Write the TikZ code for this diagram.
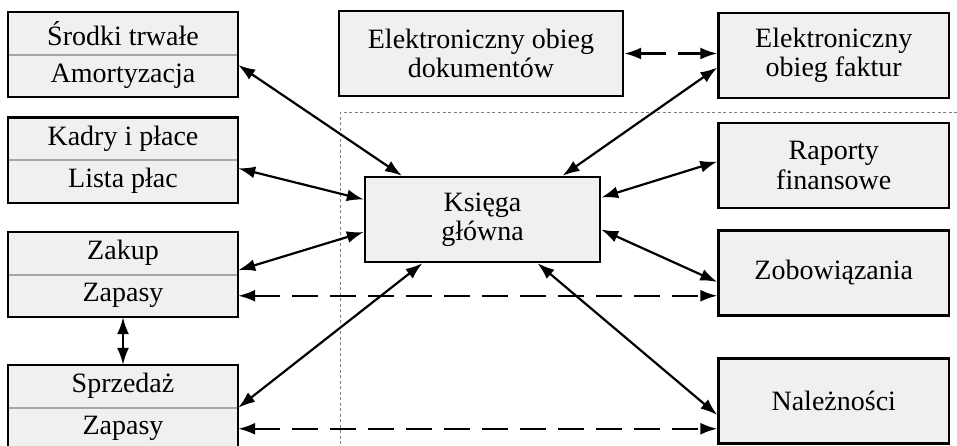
\documentclass[tikz,border=0pt]{standalone}
\usepackage{fontspec}
\setmainfont{Liberation Serif}
\usetikzlibrary{arrows.meta}
\definecolor{boxgray}{RGB}{240,240,240}

\begin{document}
\begin{tikzpicture}[x=1pt,y=-1pt,>={Latex[length=17pt,width=12pt]},
		every node/.style={font=\fontsize{28}{29.5}\selectfont},
		half/.style={fill=boxgray,minimum width=230pt,minimum height=42.5pt,inner sep=0pt},
		box/.style={draw,line width=2.4pt,fill=boxgray,minimum width=230.5pt,minimum height=85pt,align=center,inner sep=0pt},
		frame/.style={line width=2.4pt},
		split/.style={gray!70,line width=1.6pt},
		link/.style={<->,line width=2.2pt},
		dlink/.style={<->,line width=2.2pt,dash pattern=on 26pt off 12pt},
		zone/.style={gray,line width=.8pt,dash pattern=on 3pt off 2.5pt}]
		\useasboundingbox (0,0) rectangle (957,445);
		% separator of the accounting part
		\draw[zone] (957,112)--(340,112)--(340,445);
		% modules on the left
		\node[half] (st) at (123,33.25) {Środki trwałe};
		\node[half] (am) at (123,75.75) {Amortyzacja};
		\node[half] (kp) at (123,138.75) {Kadry i płace};
		\node[half] (lp) at (123,181.25) {Lista płac};
		\node[half] (zk) at (123,253.25) {Zakup};
		\node[half] (za1) at (123,295.75) {Zapasy};
		\node[half] (sp) at (123,386.25) {Sprzedaż};
		\node[half] (za2) at (123,428.75) {Zapasy};
		\draw[split] (st.south west)--(st.south east);
		\draw[split] (kp.south west)--(kp.south east);
		\draw[split] (zk.south west)--(zk.south east);
		\draw[split] (sp.south west)--(sp.south east);
		\draw[frame] (st.north west) rectangle (am.south east);
		\draw[frame] (kp.north west) rectangle (lp.south east);
		\draw[frame] (zk.north west) rectangle (za1.south east);
		\draw[frame] (sp.north west) rectangle (za2.south east);
		% middle and right
		\node[box,minimum width=284pt] (dok) at (481,53.5) {Elektroniczny obieg\\dokumentów};
		\node[box,minimum width=235pt] (kg) at (482.5,219.5) {Księga\\główna};
		\node[box] (fak) at (833.75,55.5) {Elektroniczny\\obieg faktur};
		\node[box] (rap) at (833.75,165.5) {Raporty\\finansowe};
		\node[box] (zob) at (833.75,273) {Zobowiązania};
		\node[box] (nal) at (833.75,401) {Należności};
		% links
		\draw[link] ([yshift=10.75pt]am.east)--([xshift=-80.5pt]kg.north);
		\draw[link] ([yshift=13pt]lp.east)--([yshift=20pt]kg.west);
		\draw[link] ([yshift=-17pt]zk.east)--([yshift=-12.5pt]kg.west);
		\draw[link] (sp.south east)--([xshift=-60pt]kg.south);
		\draw[link] (za1.south)--(sp.north);
		\draw[dlink] (za1.east)--(zob.west |- za1.east);
		\draw[dlink] (za2.east)--(nal.west |- za2.east);
		\draw[dlink] (dok.east)--(fak.west |- dok.east);
		\draw[link] ([xshift=80pt]kg.north)--([yshift=-12pt]fak.west);
		\draw[link] ([yshift=22pt]kg.east)--([yshift=4pt]rap.west);
		\draw[link] ([yshift=-10pt]kg.east)--([yshift=-9pt]zob.west);
		\draw[link] ([xshift=55pt]kg.south)--([yshift=-14pt]nal.west);
	\end{tikzpicture}
\end{document}
